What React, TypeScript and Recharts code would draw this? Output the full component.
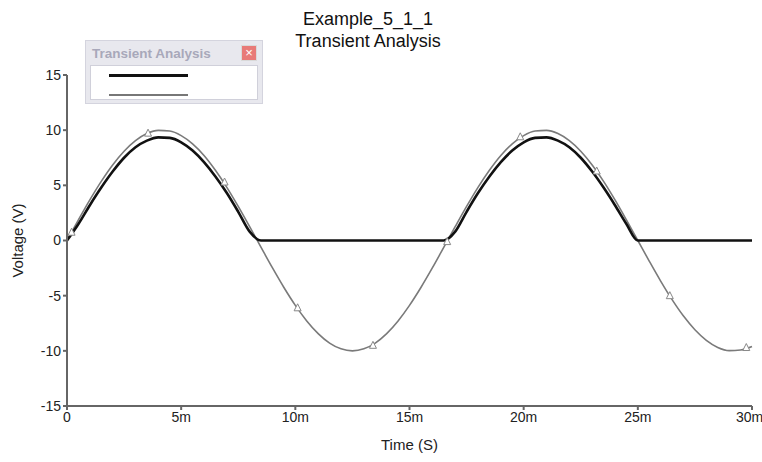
import React from "react";
import {
  ComposedChart,
  Line,
  Scatter,
  XAxis,
  YAxis,
} from "recharts";

// time in ms
const timeMs = [
  0, 0.5, 1, 1.5, 2, 2.5, 3, 3.5, 4, 4.5, 5, 5.5, 6, 6.5, 7, 7.5, 8, 8.5, 9, 9.5,
  10, 10.5, 11, 11.5, 12, 12.5, 13, 13.5, 14, 14.5, 15, 15.5, 16, 16.5, 17, 17.5,
  18, 18.5, 19, 19.5, 20, 20.5, 21, 21.5, 22, 22.5, 23, 23.5, 24, 24.5, 25, 25.5,
  26, 26.5, 27, 27.5, 28, 28.5, 29, 29.5, 30,
];

// source voltage (gray)
const inputV = [
  0, 1.87, 3.68, 5.36, 6.85, 8.09, 9.05, 9.69, 9.98, 9.92, 9.51, 8.76, 7.71, 6.37,
  4.82, 3.09, 1.25, -0.63, -2.49, -4.26, -5.88, -7.29, -8.44, -9.3, -9.82, -10,
  -9.82, -9.3, -8.44, -7.29, -5.88, -4.26, -2.49, -0.63, 1.25, 3.09, 4.82, 6.37,
  7.71, 8.76, 9.51, 9.92, 9.98, 9.69, 9.05, 8.09, 6.85, 5.36, 3.68, 1.87, 0,
  -1.87, -3.68, -5.36, -6.85, -8.09, -9.05, -9.69, -9.98, -9.92, -9.6,
];

// rectified output voltage (black)
const outputV = [
  0, 1.5, 3.2, 4.8, 6.25, 7.5, 8.45, 9.05, 9.35, 9.3, 8.9, 8.15, 7.1, 5.8, 4.3,
  2.6, 0.8, 0, 0, 0, 0, 0, 0, 0, 0, 0, 0, 0, 0, 0, 0, 0, 0, 0, 0.8, 2.6, 4.3,
  5.8, 7.1, 8.15, 8.9, 9.3, 9.35, 9.05, 8.45, 7.5, 6.25, 4.8, 3.2, 1.5, 0, 0, 0,
  0, 0, 0, 0, 0, 0, 0, 0,
];

// triangle markers on the source trace
const markerT = [0.2, 3.55, 6.9, 10.1, 13.4, 16.65, 19.85, 23.2, 26.4, 29.75];
const markerV = [0.75, 9.73, 5.3, -6.1, -9.5, -0.1, 9.4, 6.3, -5.0, -9.7];

const xTicks = [0, 5, 10, 15, 20, 25, 30];
const yTicks = [-15, -10, -5, 0, 5, 10, 15];

const rows = timeMs.map((t, i) => ({ t, vin: inputV[i], vout: outputV[i] }));
const markers = markerT.map((t, i) => ({ t, m: markerV[i] }));

const Triangle = (props: any) => {
  const { cx, cy } = props;
  if (cx == null || cy == null) return null;
  return (
    <polygon
      points={`${cx},${cy - 4} ${cx - 3.5},${cy + 3} ${cx + 3.5},${cy + 3}`}
      fill="#fff"
      stroke="#888"
      strokeWidth={1}
    />
  );
};

const tickStyle = { fill: "#222", fontSize: 14, fontFamily: "Liberation Sans, Arial, sans-serif" };

export default function App() {
  return (
    <div
      style={{
        position: "absolute",
        left: 0,
        top: 0,
        width: 762,
        height: 462,
        background: "#fff",
        fontFamily: "Liberation Sans, Arial, sans-serif",
      }}
    >
      <div
        style={{
          position: "absolute",
          left: 268,
          width: 200,
          top: 8,
          textAlign: "center",
          fontSize: 18,
          lineHeight: "22px",
          color: "#111",
        }}
      >
        <div>Example_5_1_1</div>
        <div>Transient Analysis</div>
      </div>
      <ComposedChart
        width={762}
        height={462}
        data={rows}
        margin={{ top: 75, right: 10, bottom: 0, left: 0 }}
      >
        <XAxis
          dataKey="t"
          type="number"
          domain={[0, 30]}
          ticks={xTicks}
          tickFormatter={(v: number) => (v === 0 ? "0" : `${v}m`)}
          stroke="#666"
          strokeWidth={2}
          tickSize={4}
          tick={tickStyle}
          height={56}
          label={{
            value: "Time (S)",
            position: "insideBottom",
            offset: 12,
            fill: "#222",
            fontSize: 15,
          }}
        />
        <YAxis
          type="number"
          domain={[-15, 15]}
          ticks={yTicks}
          stroke="#666"
          strokeWidth={2}
          tickSize={4}
          tick={tickStyle}
          width={67}
          label={{
            value: "Voltage (V)",
            angle: -90,
            position: "insideLeft",
            offset: 18,
            style: { textAnchor: "middle" },
            fill: "#222",
            fontSize: 15,
          }}
        />
        <Line
          dataKey="vin"
          type="monotone"
          stroke="#7a7a7a"
          strokeWidth={1.6}
          dot={false}
          isAnimationActive={false}
        />
        <Line
          dataKey="vout"
          type="monotone"
          stroke="#111"
          strokeWidth={2.6}
          dot={false}
          isAnimationActive={false}
        />
        <Scatter
          data={markers}
          dataKey="m"
          shape={<Triangle />}
          isAnimationActive={false}
        />
      </ComposedChart>
      <div
        style={{
          position: "absolute",
          left: 85,
          top: 40,
          width: 178,
          height: 64,
          background: "#e8e8ee",
          border: "1px solid #d4d4de",
          boxSizing: "border-box",
        }}
      >
        <div
          style={{
            position: "absolute",
            left: 6,
            top: 5,
            fontSize: 13.5,
            fontWeight: "bold",
            color: "#a8a8ba",
            whiteSpace: "nowrap",
          }}
        >
          Transient Analysis
        </div>
        <div
          style={{
            position: "absolute",
            left: 155,
            top: 4,
            width: 16,
            height: 16,
            background: "#e87a78",
            border: "1px solid #d9d9d9",
            boxSizing: "border-box",
            color: "#fff",
            fontSize: 13,
            lineHeight: "14px",
            textAlign: "center",
          }}
        >
          ×
        </div>
        <div
          style={{
            position: "absolute",
            left: 4,
            top: 24,
            width: 168,
            height: 35,
            background: "#fff",
            border: "1px solid #d0d0da",
            boxSizing: "border-box",
          }}
        >
          <div
            style={{
              position: "absolute",
              left: 18,
              top: 8,
              width: 79,
              height: 3,
              background: "#111",
            }}
          />
          <div
            style={{
              position: "absolute",
              left: 18,
              top: 28,
              width: 79,
              height: 2,
              background: "#777",
            }}
          />
        </div>
      </div>
    </div>
  );
}
